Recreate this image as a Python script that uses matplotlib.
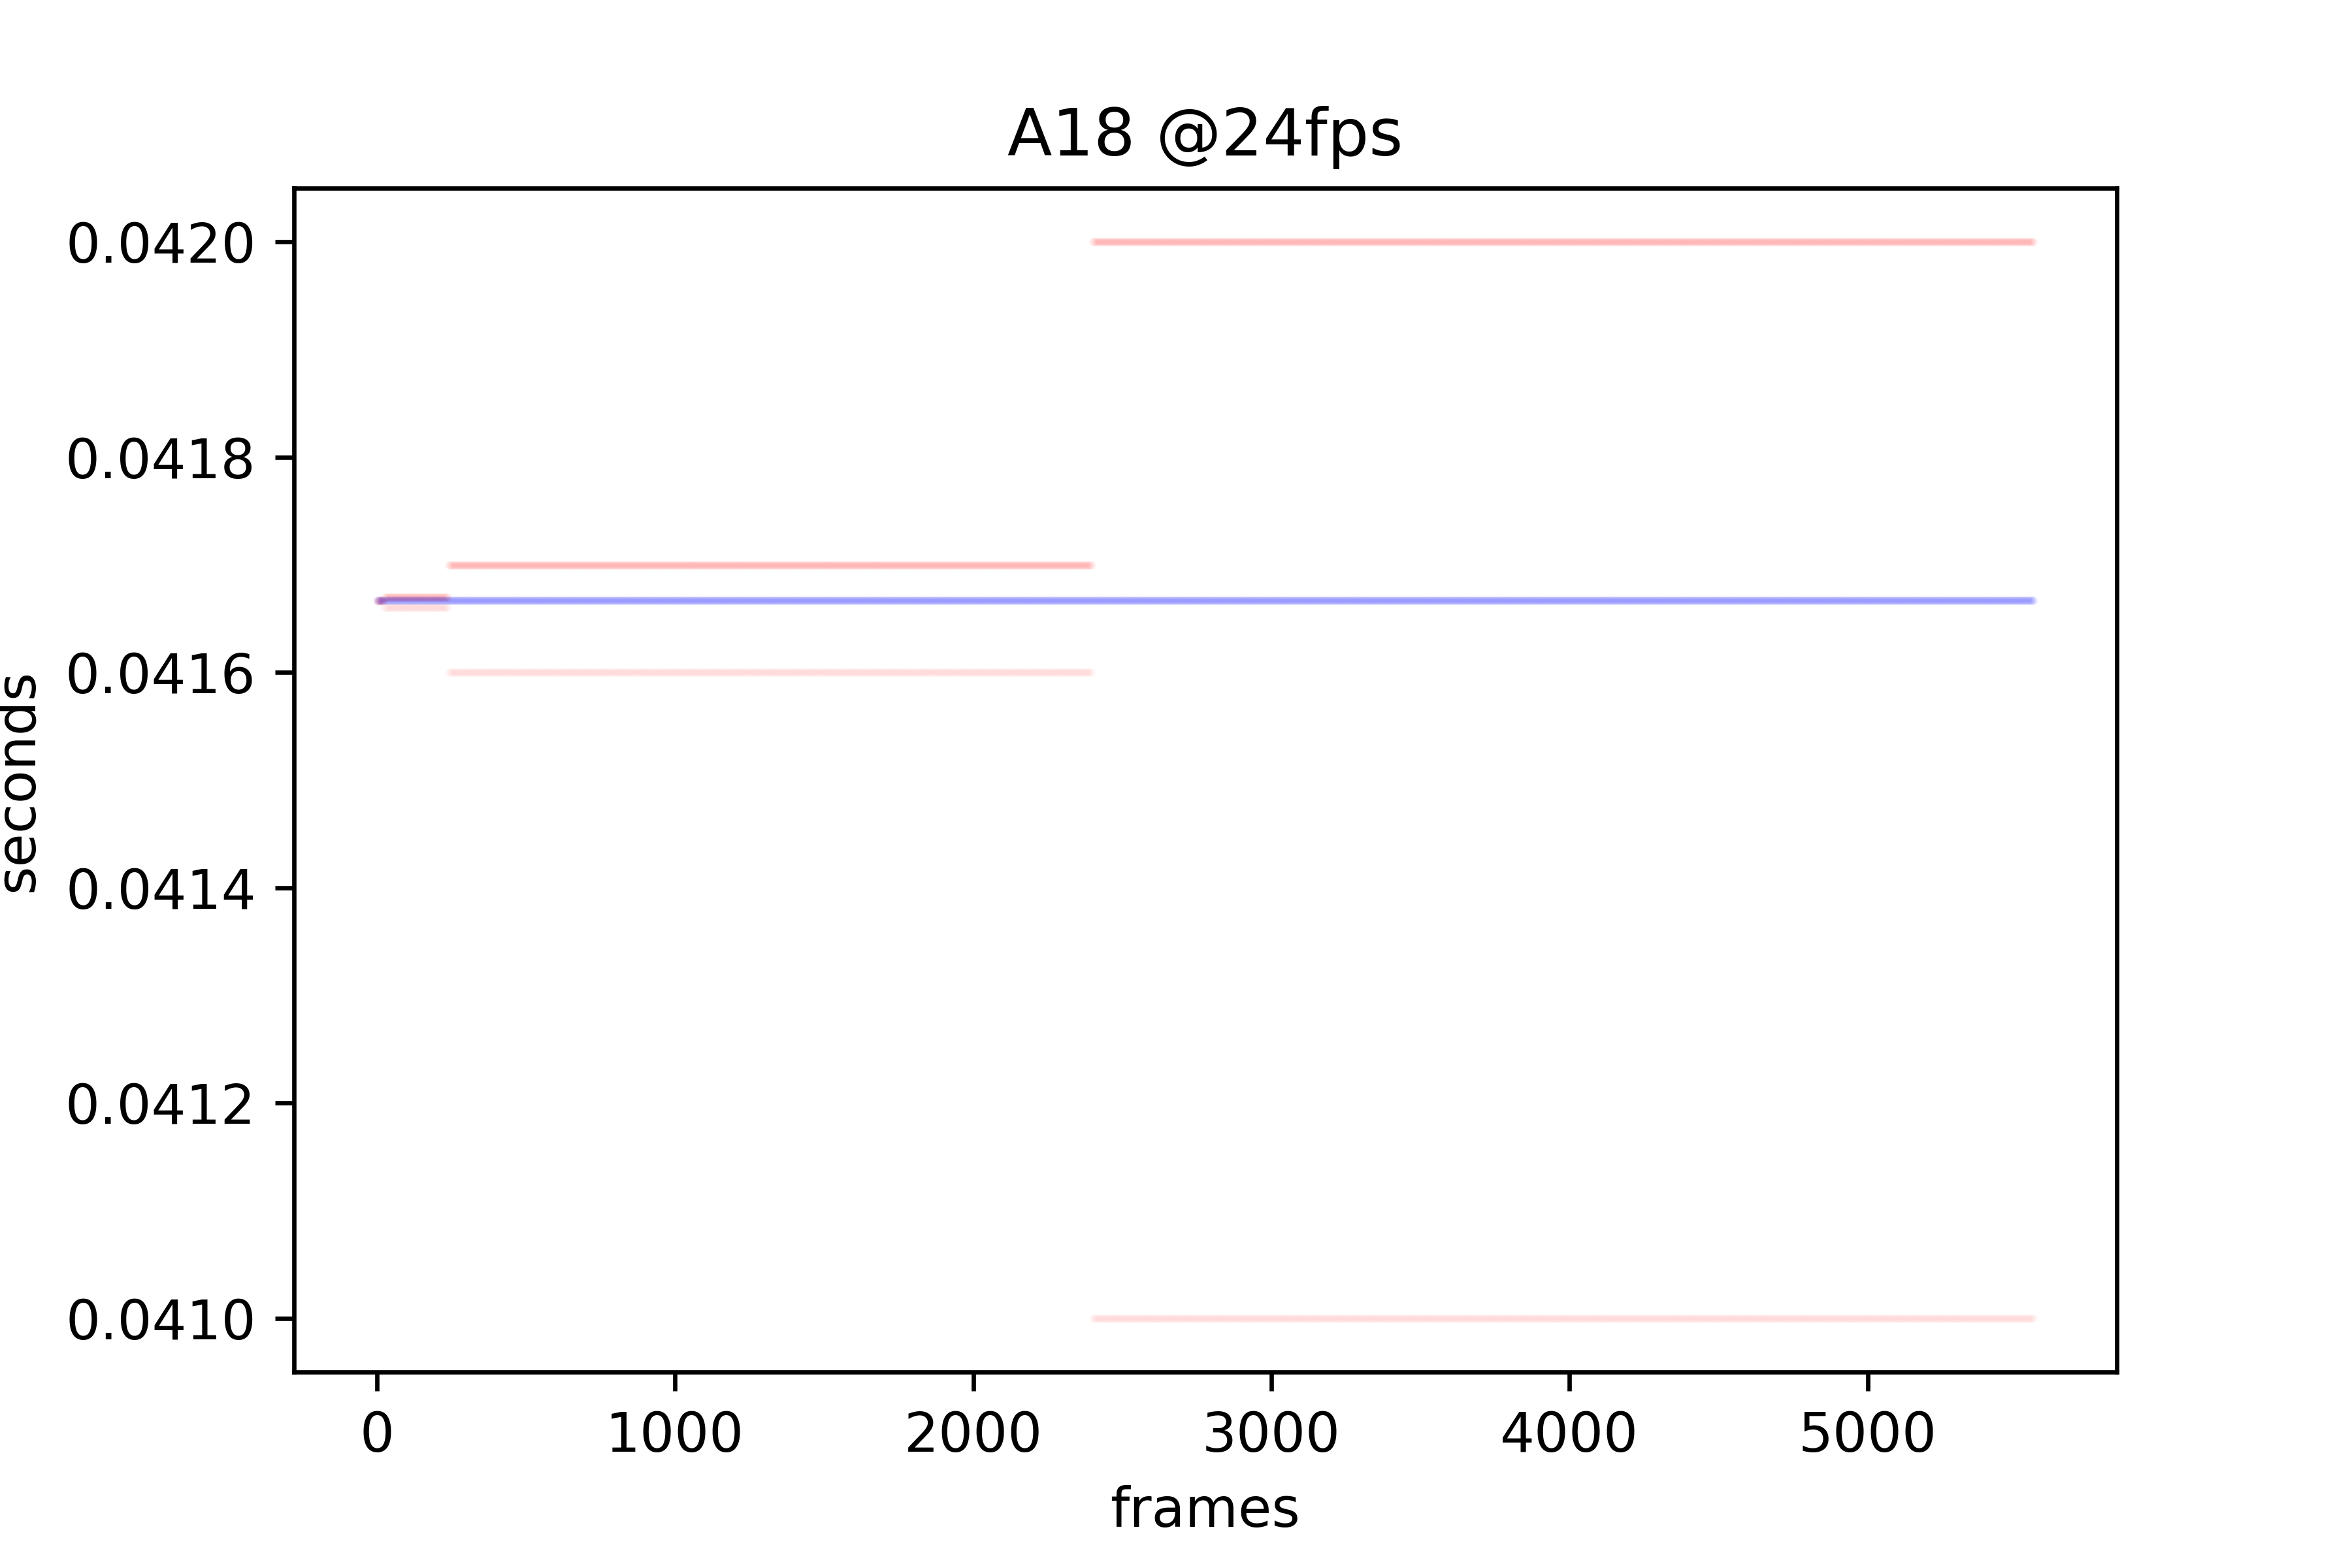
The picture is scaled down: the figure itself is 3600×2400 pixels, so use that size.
import numpy as np
import matplotlib
matplotlib.use('Agg')
import matplotlib.pyplot as plt

# segment boundaries in frames (timestamps change precision at 1 s, 10 s, 100 s)
seg_starts = [0, 24, 240, 2400]
seg_ends = [24, 240, 2400, 5559]
# repeating frame-duration cycles (seconds) seen in each segment
seg_cycles = [
    [0.041667, 0.041667, 0.041666],
    [0.04167, 0.04166, 0.04167],
    [0.0417, 0.0416, 0.0417],
    [0.042, 0.041, 0.042],
]
expected_duration = 0.0416667  # 1/24 s

frames = []
durations = []
for start, end, cycle in zip(seg_starts, seg_ends, seg_cycles):
    n = end - start
    frames.extend(range(start, end))
    durations.extend(np.resize(cycle, n))
frames = np.array(frames)
durations = np.array(durations)
expected = np.full(len(frames), expected_duration)

fig = plt.figure(figsize=(6, 4), dpi=600)
ax = fig.add_subplot(111)
fig.subplots_adjust(left=0.125, right=0.9, top=0.88, bottom=0.125)

ax.plot(frames, durations, '.', color='red', markersize=1, alpha=0.015)
ax.plot(frames, expected, '.', color='blue', markersize=1, alpha=0.015)

ax.set_title('A18 @24fps')
ax.set_xlabel('frames')
ax.set_ylabel('seconds')

fig.savefig('out.png', dpi=600)
